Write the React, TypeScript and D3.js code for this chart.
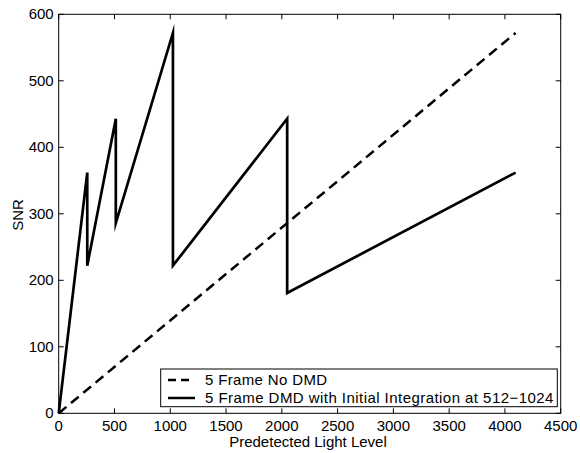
import React from "react";
import * as d3 from "d3";

const xTicks = [0, 500, 1000, 1500, 2000, 2500, 3000, 3500, 4000, 4500];
const yTicks = [0, 100, 200, 300, 400, 500, 600];

// 5 Frame No DMD (dashed, linear)
const noDmdX = [0, 4096];
const noDmdY = [0, 572];

// 5 Frame DMD with Initial Integration at 512-1024
const dmdX = [0, 256, 256, 512, 512, 1024, 1024, 2048, 2048, 4096];
const dmdY = [0, 362, 222, 443, 286, 572, 222, 443, 181, 362];

const legendLabels = ["5 Frame No DMD", "5 Frame DMD with Initial Integration at 512\u22121024"];

export default function App() {
  const W = 580, H = 453;
  const L = 58.7, R = 560.7, T = 14.3, B = 413.3;
  const x = d3.scaleLinear().domain([0, 4500]).range([L, R]);
  const y = d3.scaleLinear().domain([0, 600]).range([B, T]);
  const line = d3.line<[number, number]>().x(d => x(d[0])).y(d => y(d[1]));
  const noDmd = noDmdX.map((v, i) => [v, noDmdY[i]] as [number, number]);
  const dmd = dmdX.map((v, i) => [v, dmdY[i]] as [number, number]);
  const font = "'Liberation Sans', Arial, Helvetica, sans-serif";
  const tl = 5;
  return (
    <svg width={W} height={H} style={{ position: "absolute", left: 0, top: 0, background: "#fff" }} fontFamily={font}>
      <rect x={0} y={0} width={W} height={H} fill="#fff" />
      <rect x={L} y={T} width={R - L} height={B - T} fill="none" stroke="#000" strokeWidth={1} />
      {xTicks.map(t => (
        <g key={"x" + t}>
          <line x1={x(t)} x2={x(t)} y1={B} y2={B - tl} stroke="#000" />
          <line x1={x(t)} x2={x(t)} y1={T} y2={T + tl} stroke="#000" />
          <text x={x(t)} y={431} fontSize={15} textAnchor="middle" fill="#000">{t}</text>
        </g>
      ))}
      {yTicks.map(t => (
        <g key={"y" + t}>
          <line x1={L} x2={L + tl} y1={y(t)} y2={y(t)} stroke="#000" />
          <line x1={R} x2={R - tl} y1={y(t)} y2={y(t)} stroke="#000" />
          <text x={L - 5} y={y(t) + 5} fontSize={15} textAnchor="end" fill="#000">{t}</text>
        </g>
      ))}
      <path d={line(noDmd) || ""} fill="none" stroke="#000" strokeWidth={2.5} strokeDasharray="10,6" />
      <path d={line(dmd) || ""} fill="none" stroke="#000" strokeWidth={2.7} strokeLinejoin="miter" strokeMiterlimit={10} />
      <text x={308} y={447} fontSize={15} textAnchor="middle" fill="#000">Predetected Light Level</text>
      <text transform="translate(23,215) rotate(-90)" fontSize={15} textAnchor="middle" fill="#000">SNR</text>
      <g>
        <rect x={160.7} y={369} width={396.6} height={37.7} fill="#fff" stroke="#000" strokeWidth={1} />
        <line x1={168} x2={194} y1={380} y2={380} stroke="#000" strokeWidth={2.5} strokeDasharray="8,5" />
        <line x1={168} x2={195} y1={398} y2={398} stroke="#000" strokeWidth={2.5} />
        <text x={205} y={385} fontSize={15} letterSpacing={0.35} fill="#000">{legendLabels[0]}</text>
        <text x={205} y={403} fontSize={15} letterSpacing={0.45} fill="#000">{legendLabels[1]}</text>
      </g>
    </svg>
  );
}
